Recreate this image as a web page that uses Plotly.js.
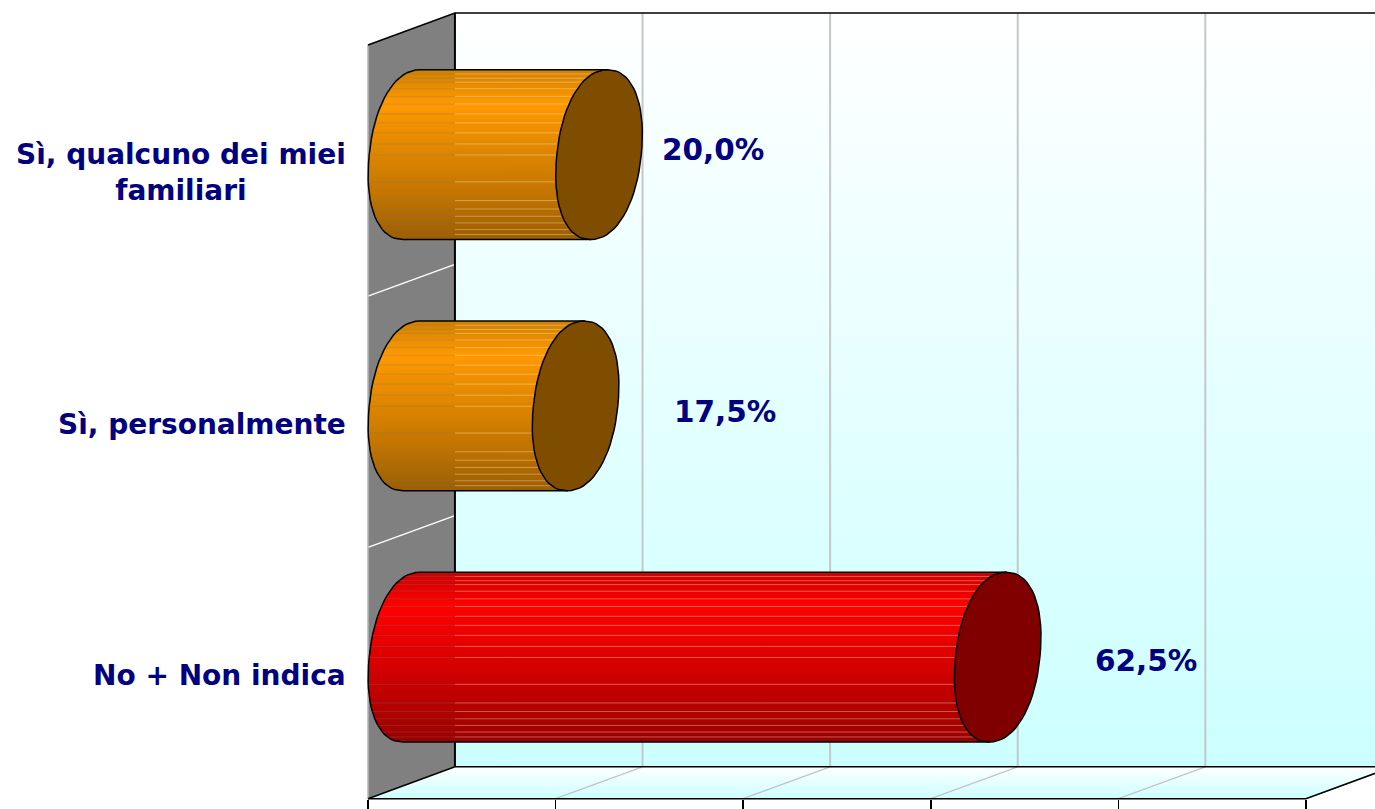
<!DOCTYPE html>
<html>
<head>
<meta charset="utf-8">
<script src="https://cdn.plot.ly/plotly-3.0.1.min.js"></script>
<style>html,body{margin:0;padding:0;background:#fff;overflow:hidden}#chart{width:1375px;height:809px}</style>
</head>
<body>
<div id="chart"></div>
<script>
// Survey answers, top to bottom
const categories = ['Sì, qualcuno dei miei<br>familiari', 'Sì, personalmente', 'No + Non indica'];
const values = [20.0, 17.5, 62.5];
const labelGap = [16.8, 20.6, 20.4];   // distance of each value label from the bar end, in % units
const xTicks = [0, 20, 40, 60, 80, 100];

// Bar colours: shaded body and flat end cap
const orangeBody = [[0, '#cf8000'], [0.2, '#ff9900'], [0.5, '#dd8500'], [0.75, '#c07300'], [1, '#9c5e00']];
const redBody = [[0, '#cc0000'], [0.2, '#ff0000'], [0.5, '#dd0000'], [0.75, '#bb0000'], [1, '#990000']];
const bodyShades = [orangeBody, orangeBody, redBody];
const capColors = ['#7f4d00', '#7f4d00', '#800000'];

// Thin highlight rows across each cylinder, as fractions of its height
const sheenRows = [0.025, 0.05, 0.073, 0.112, 0.157, 0.202, 0.26, 0.313, 0.372, 0.437, 0.502,
                   0.66, 0.77, 0.82, 0.863, 0.902, 0.941, 0.97];

// 3D box proportions, in axis units
const depthX = 9.27;
const depthY = -0.127;
const radiusY = 0.338;
const capA = 4.5;
const capB = 0.906;
const capRound = 2.15;   // exponent of the cap outline, slightly fuller than an ellipse
const barFront = depthX / 2;
const barLift = depthY / 2;
const capSteps = Array.from({length: 73}, (_, i) => i * 5 * Math.PI / 180);

const X_MAX = 100, Y_TOP = -0.5, Y_BOTTOM = 2.5;
const traces = [];

function poly(x, y, fill, extra) {
  traces.push(Object.assign({x, y, mode: 'lines', type: 'scatter', fill: 'toself',
    fillcolor: fill, line: {width: 0}, hoverinfo: 'skip', showlegend: false}, extra || {}));
}
function segs(x, y, color, width) {
  traces.push({x, y, mode: 'lines', type: 'scatter', line: {color, width},
    hoverinfo: 'skip', showlegend: false, connectgaps: false});
}

// Back wall, side wall, floor
poly([depthX, X_MAX + depthX, X_MAX + depthX, depthX, depthX],
     [Y_TOP + depthY, Y_TOP + depthY, Y_BOTTOM + depthY, Y_BOTTOM + depthY, Y_TOP + depthY], null,
     {fillcolor: undefined, fillgradient: {type: 'vertical', colorscale: [[0, '#ccffff'], [1, '#ffffff']]}});
poly([0, depthX, depthX, 0, 0],
     [Y_TOP, Y_TOP + depthY, Y_BOTTOM + depthY, Y_BOTTOM, Y_TOP], '#808080');
poly([0, depthX, X_MAX + depthX, X_MAX, 0],
     [Y_BOTTOM, Y_BOTTOM + depthY, Y_BOTTOM + depthY, Y_BOTTOM, Y_BOTTOM], null,
     {fillcolor: undefined, fillgradient: {type: 'vertical', colorscale: [[0, '#ccffff'], [1, '#ffffff']]}});

// Gridlines: heavier on the back wall, finer on the floor
const wallX = [], wallY = [], floorX = [], floorY = [];
xTicks.slice(1).forEach(t => {
  wallX.push(t + depthX, t + depthX, null);
  wallY.push(Y_BOTTOM + depthY, Y_TOP + depthY, null);
  floorX.push(t, t + depthX, null);
  floorY.push(Y_BOTTOM, Y_BOTTOM + depthY, null);
});
segs(wallX, wallY, '#c4c8c8', 2);
segs(floorX, floorY, '#c4c4c4', 1.3);

// Category separators on the side wall
segs([0, depthX, null, 0, depthX], [0.5, 0.5 + depthY, null, 1.5, 1.5 + depthY], '#ffffff', 1.3);
segs([0, 0], [Y_TOP, Y_BOTTOM], '#b8b8b8', 1.5);

// Box outline
segs([0, depthX, X_MAX + depthX], [Y_TOP, Y_TOP + depthY, Y_TOP + depthY], '#000000', 1.5);
segs([depthX, depthX], [Y_TOP + depthY, Y_BOTTOM + depthY], '#000000', 2);
segs([0, depthX, X_MAX + depthX, null, 0, X_MAX, X_MAX + depthX],
     [Y_BOTTOM, Y_BOTTOM + depthY, Y_BOTTOM + depthY, null, Y_BOTTOM, Y_BOTTOM, Y_BOTTOM + depthY], '#000000', 1.6);

// Point at angle t around an end of the cylinder
function capPoint(cx, cy, t) {
  const power = v => Math.sign(v) * Math.pow(Math.abs(v), 2 / capRound);
  const c = power(Math.cos(t)), s = power(Math.sin(t));
  return [cx + capA * c - capB * s, cy + radiusY * s];
}

// Cylinders
values.forEach((v, i) => {
  const cy = i + barLift;
  const startX = barFront, endX = v + barFront;
  const bx = [], by = [];
  // Back half of the start cap, then along the top and bottom edges
  capSteps.forEach(t => {
    if (t >= Math.PI / 2 && t <= 3 * Math.PI / 2) {
      const p = capPoint(startX, cy, t);
      bx.push(p[0]); by.push(p[1]);
    }
  });
  const top = capPoint(endX, cy, 3 * Math.PI / 2);
  const bottom = capPoint(endX, cy, Math.PI / 2);
  bx.push(top[0], bottom[0], bx[0]);
  by.push(top[1], bottom[1], by[0]);
  traces.push({x: bx, y: by, mode: 'lines', type: 'scatter', fill: 'toself',
    fillgradient: {type: 'vertical', colorscale: bodyShades[i].map(s => [1 - s[0], s[1]]).reverse()},
    line: {color: '#000000', width: 1.5}, hoverinfo: 'skip', showlegend: false});

  // Highlight rows: dull over the side wall, bright over the back wall
  const dullX = [], dullY = [], brightX = [], brightY = [];
  sheenRows.forEach(f => {
    const y = cy - radiusY + 2 * radiusY * f;
    const s = (y - cy) / radiusY;
    const half = capA * Math.pow(1 - Math.pow(Math.abs(s), capRound), 1 / capRound);
    const left = startX - half - capB * s;
    const right = endX - half - capB * s;
    dullX.push(left, depthX, null); dullY.push(y, y, null);
    brightX.push(depthX, right, null); brightY.push(y, y, null);
  });
  segs(dullX, dullY, 'rgba(120,120,120,0.28)', 1);
  segs(brightX, brightY, 'rgba(255,235,200,0.38)', 1);

  // End cap
  const ex = [], ey = [];
  capSteps.forEach(t => { const p = capPoint(endX, cy, t); ex.push(p[0]); ey.push(p[1]); });
  poly(ex, ey, capColors[i], {line: {color: '#000000', width: 1.5}});
});

// Category labels and value labels
const fontFamily = '"DejaVu Sans", Verdana, sans-serif';
const categoryFont = {family: fontFamily, color: '#000080', size: 28, weight: 700};
const valueFont = {family: fontFamily, color: '#000080', size: 29.5, weight: 700};
const categoryY = [0.008, 1.01, 2.008];
const valueY = [-0.08, 0.96, 1.95];
const annotations = [];
categories.forEach((c, i) => {
  annotations.push({x: -2.15, y: categoryY[i], xref: 'x', yref: 'y', text: '<b>' + c + '</b>', showarrow: false,
    xanchor: 'right', yanchor: 'middle', align: 'center', font: categoryFont});
  annotations.push({x: values[i] + labelGap[i], y: valueY[i], xref: 'x', yref: 'y',
    text: '<b>' + values[i].toFixed(1).replace('.', ',') + '%</b>', showarrow: false,
    xanchor: 'center', yanchor: 'middle', font: valueFont});
});

const layout = {
  width: 1375, height: 809,
  margin: {l: 0, r: 0, t: 0, b: 0},
  paper_bgcolor: '#ffffff', plot_bgcolor: '#ffffff',
  showlegend: false,
  xaxis: {range: [-39.23, 107.36], showgrid: false, zeroline: false, showline: false,
    tickvals: xTicks, ticks: 'outside', ticklen: 10, tickwidth: 1.5, tickcolor: '#000000',
    showticklabels: false, anchor: 'free', position: 0.0127},
  yaxis: {range: [2.541, -0.679], showgrid: false, zeroline: false, showline: false,
    tickvals: [0, 1, 2], ticks: '', showticklabels: false},
  annotations
};
Plotly.newPlot('chart', traces, layout, {staticPlot: true, displayModeBar: false});
</script>
</body>
</html>
